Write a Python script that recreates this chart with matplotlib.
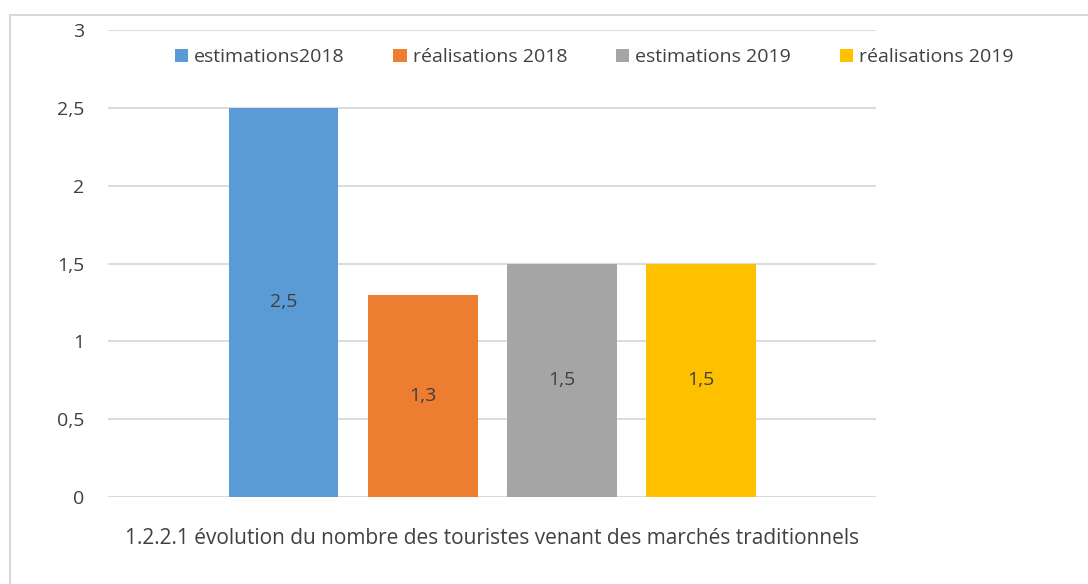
import matplotlib.pyplot as plt
from matplotlib.patches import Rectangle

# Data
series = ["estimations2018", "réalisations 2018", "estimations 2019", "réalisations 2019"]
values = [2.5, 1.3, 1.5, 1.5]
colors = ["#5b9bd5", "#ed7d31", "#a5a5a5", "#ffc000"]
yticks = [0, 0.5, 1, 1.5, 2, 2.5, 3]
xlabel = "1.2.2.1 évolution du nombre des touristes venant des marchés traditionnels"

plt.rcParams['font.family'] = ['Open Sans', 'DejaVu Sans']
text_col = "#404040"
grid_col = "#d9d9d9"

fig = plt.figure(figsize=(10.88, 5.84), dpi=100)
ax = fig.add_axes([0.0993, 0.149, 0.706, 0.7996])

# outer chart border
fig.patches.append(Rectangle((10 / 1088, -0.1), 1.2, 0.974 + 0.1, transform=fig.transFigure,
                             fill=False, edgecolor=grid_col, linewidth=1.5))

step = 0.181
width = 0.143
for i, (name, v, c) in enumerate(zip(series, values, colors)):
    x = (i - 1.5) * step
    ax.bar(x, v, width=width, color=c, label=name, zorder=3)
    ax.text(x, v / 2, f"{v:g}".replace(".", ","), ha="center", va="center",
            fontsize=14, color=text_col, zorder=4)

ax.set_xlim(-0.5, 0.5)
ax.set_ylim(0, 3)
ax.set_yticks(yticks)
ax.set_yticklabels([f"{t:g}".replace(".", ",") for t in yticks], fontsize=14, color=text_col)
ax.set_xticks([])
ax.tick_params(axis="y", length=0, pad=17)
ax.yaxis.grid(True, color=grid_col, linewidth=1.3, zorder=0)
for s in ax.spines.values():
    s.set_visible(False)
ax.axhline(0, color=grid_col, linewidth=1.5, zorder=2)

ax.set_xlabel(xlabel, fontsize=15, color=text_col, labelpad=22)

fig.legend(loc="center", bbox_to_anchor=(0.546, 0.902), ncol=4, frameon=False,
           fontsize=14, handlelength=0.7, handleheight=0.7, handletextpad=0.3,
           columnspacing=2.5, labelcolor=text_col)

fig.savefig("out.png", dpi=100)
